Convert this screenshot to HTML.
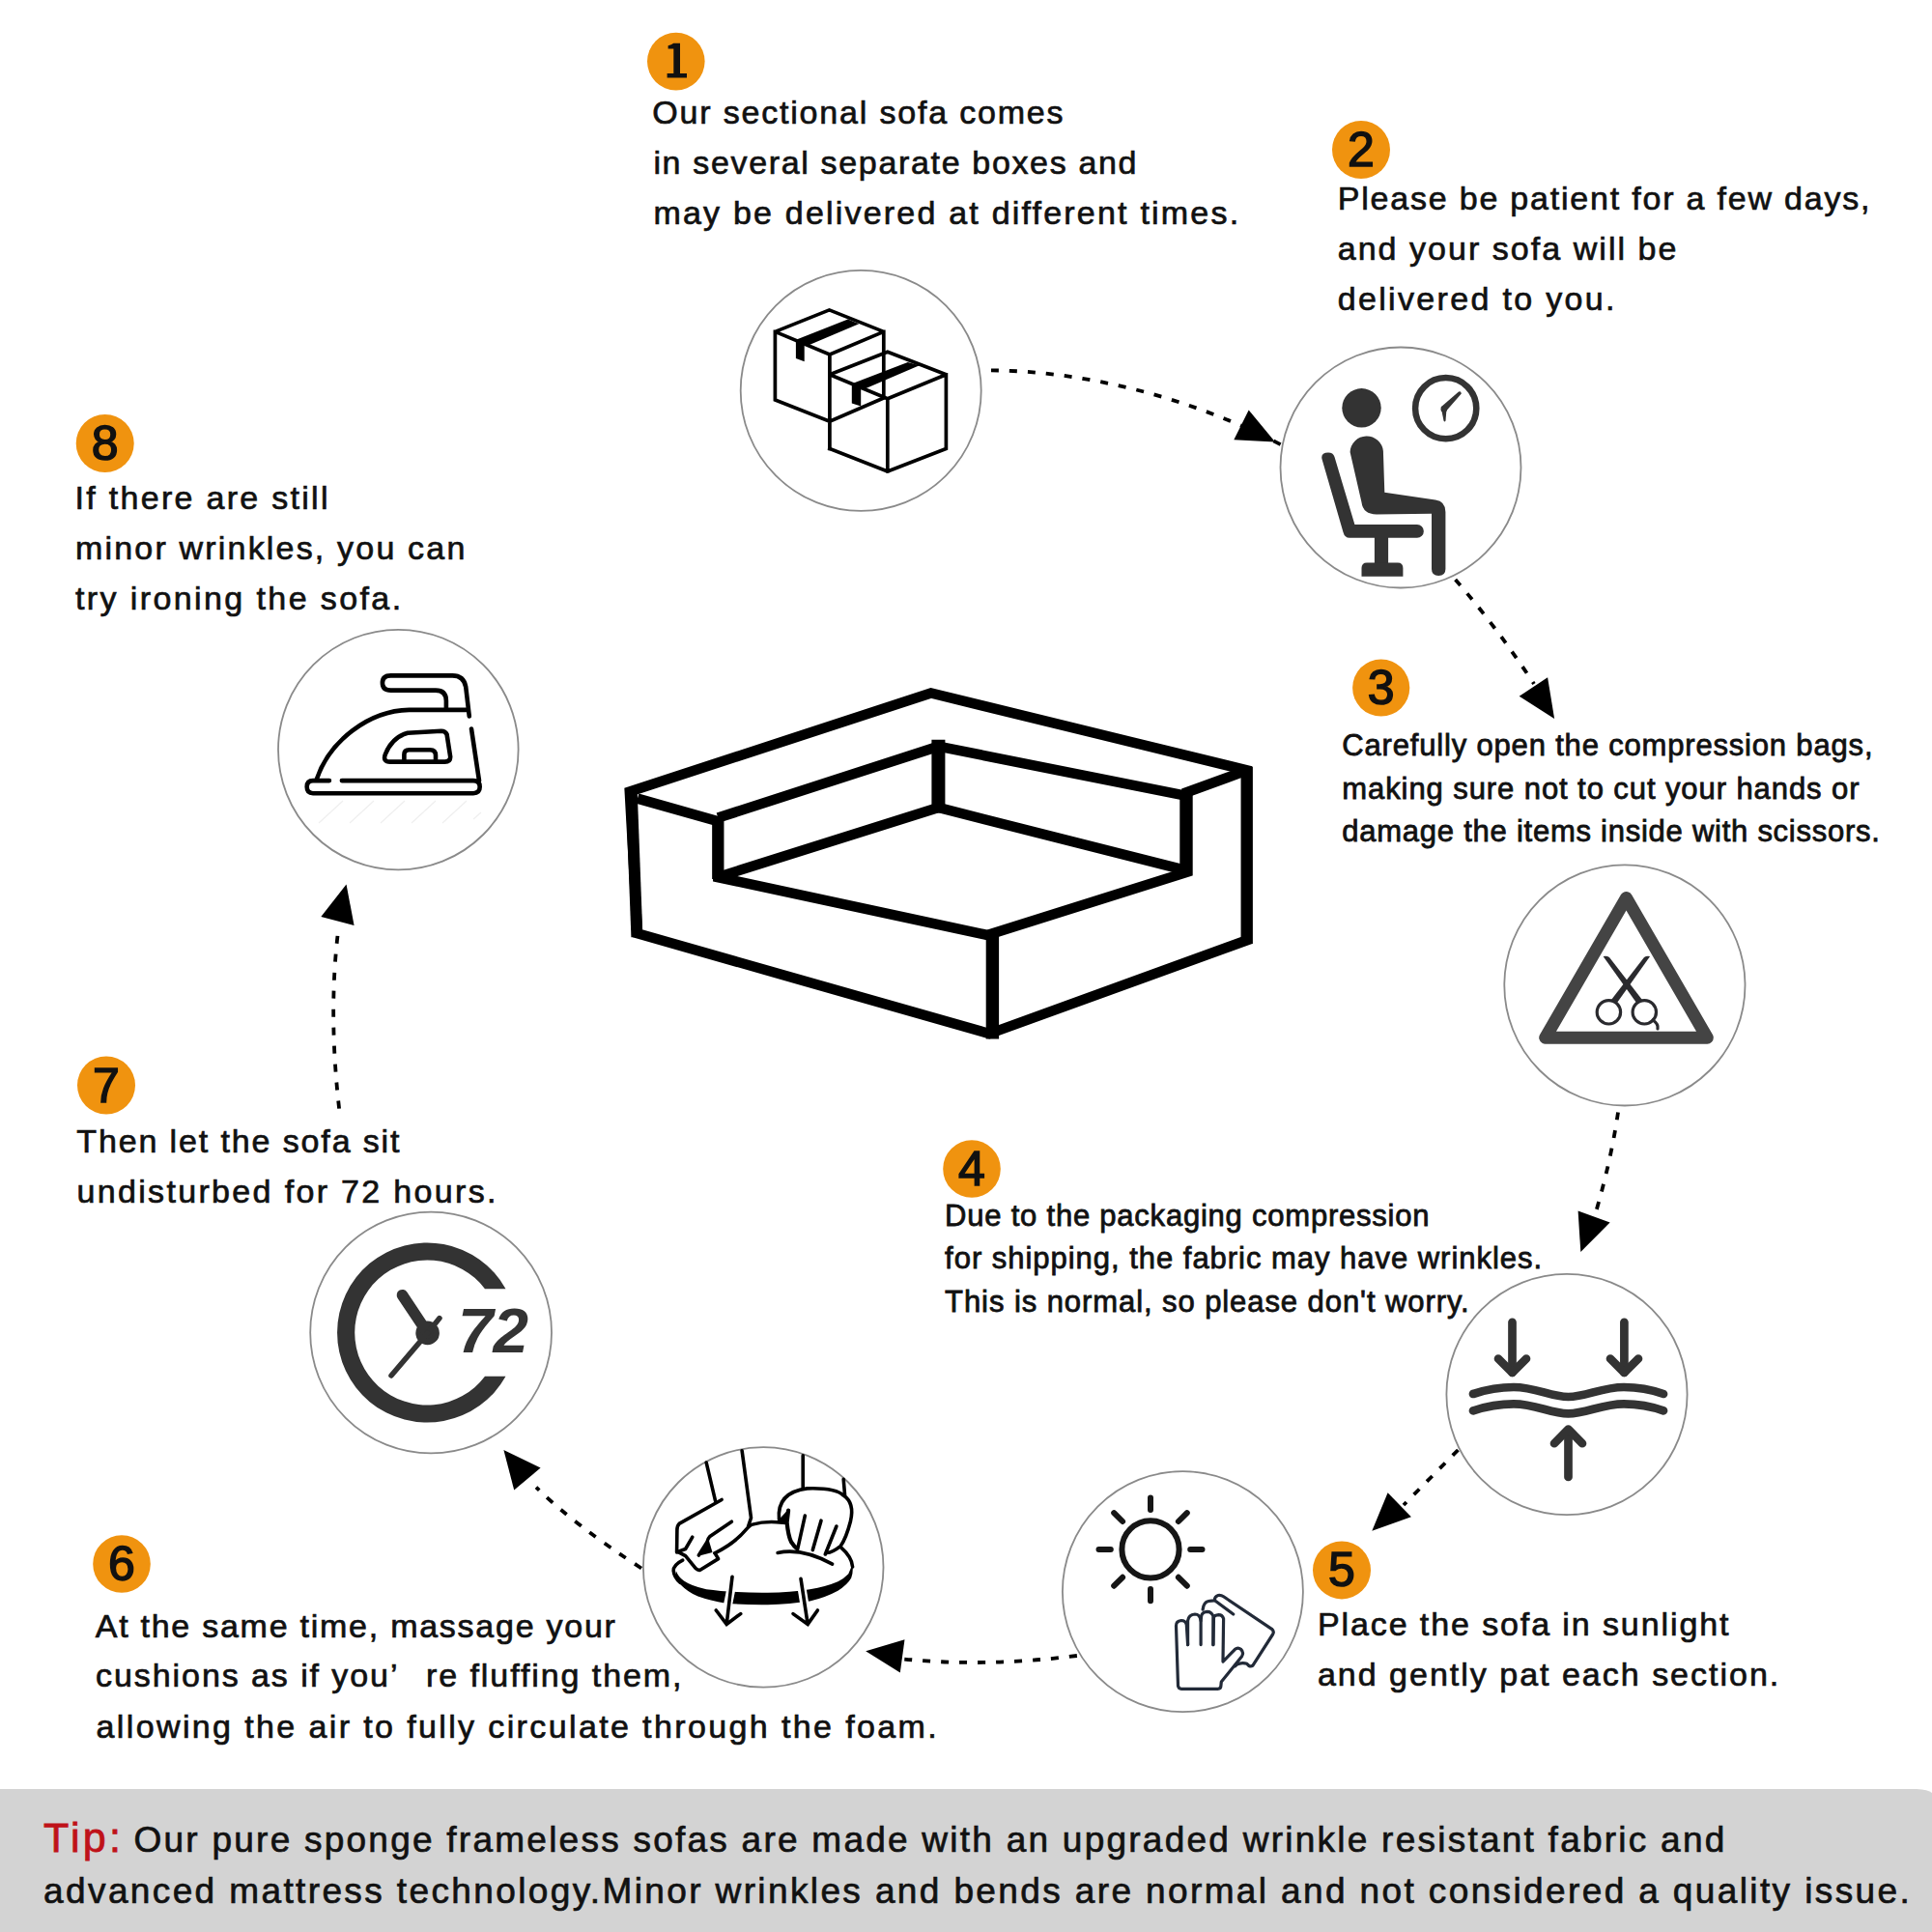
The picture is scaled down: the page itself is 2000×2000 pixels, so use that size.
<!DOCTYPE html>
<html><head><meta charset="utf-8">
<style>
html,body{margin:0;padding:0;background:#fff;width:2000px;height:2000px;overflow:hidden}
svg{display:block}
text{font-family:"Liberation Sans",sans-serif}
.t1{font-size:34px;fill:#111;stroke:#111;stroke-width:0.7}
.t3{font-size:31px;fill:#111;stroke:#111;stroke-width:0.8}
.tip{font-size:37px;fill:#111;stroke:#111;stroke-width:0.7}
.tipr{font-size:43px;fill:#bf1219;stroke:#bf1219;stroke-width:0.8}
.num{font-size:50px;fill:#111;stroke:#111;stroke-width:1.5}
.ring{fill:#fff;stroke:#8a8a8a;stroke-width:1.8}
.dash{fill:none;stroke:#000;stroke-width:3.8;stroke-dasharray:8 11}
</style></head>
<body>
<svg width="2000" height="2000" viewBox="0 0 2000 2000">
<rect width="2000" height="2000" fill="#fff"/>
<!-- Tip band -->
<path d="M0,1852 L1984,1852 Q1996,1852.5 2000,1856 L2000,2000 L0,2000 Z" fill="#d3d3d3"/>

<!-- circles -->
<g id="rings">
<circle class="ring" cx="891.2" cy="404.4" r="124.5"/>
<circle class="ring" cx="1450" cy="484" r="124.5"/>
<circle class="ring" cx="1681.9" cy="1019.9" r="124.6"/>
<circle class="ring" cx="1622" cy="1443.5" r="124.6"/>
<circle class="ring" cx="1224.4" cy="1647.7" r="124.5"/>
<circle class="ring" cx="790.2" cy="1622.4" r="124.3"/>
<circle class="ring" cx="446.1" cy="1379.5" r="124.9"/>
<circle class="ring" cx="412.3" cy="776.1" r="124.3"/>
</g>

<!-- arrows -->
<g id="arrows">
<path class="dash" d="M1026,383.4 C1120,384 1230,410 1326.8,460.8"/>
<polygon points="1292.7,424.6 1277.3,455.3 1320,457.4"/>
<path class="dash" d="M1506.6,600 Q1550,650 1588,708"/>
<polygon points="1602.1,701.2 1572.7,720.7 1609.1,744"/>
<path class="dash" d="M1675,1151.4 Q1668,1200 1652,1255"/>
<polygon points="1633.6,1253.5 1666.6,1265.6 1636.3,1295.9"/>
<path class="dash" d="M1509.4,1501 L1453,1558"/>
<polygon points="1436.6,1545.2 1460.9,1570.2 1420.3,1584.7"/>
<path class="dash" d="M1114.9,1714 Q1020,1726 935,1717.4"/>
<polygon points="896.2,1709.3 936.5,1697.2 931.8,1731.5"/>
<path class="dash" d="M664,1623.5 Q593.7,1577.85 555,1539.6"/>
<polygon points="521.4,1501 559.6,1519.6 532.2,1542.4"/>
<path class="dash" d="M351.1,1147.6 Q340,1050 349.8,966"/>
<polygon points="358.5,915.5 332.3,949.1 366.6,957.9"/>
</g>

<!-- sofa -->
<g fill="none" stroke="#000" stroke-width="10.5" stroke-linejoin="miter">
<path d="M651.8,819.5 L963.7,717.5 L1291,797.4 L1291,973.3 L1024.2,1070.1 L659.9,966.3 Z"/>
<path d="M659.9,826.6 L743.3,850.2 L743.3,908.2 L1022,968 L1228.4,903 L1228.4,820.2 L1291,797.4"/>
<path d="M743.3,846.6 L971.4,772.7 L1228.4,823.8"/>
<path d="M743.3,908 L971.4,836 L1228.4,901.2"/>
</g>
<g fill="none" stroke="#000" stroke-linecap="butt">
<path d="M653.6,816 L659.4,970" stroke-width="12"/>
<path d="M1027.4,966.3 L1027.4,1075.4" stroke-width="13.4"/>
<path d="M971.4,765.7 L971.4,841.4" stroke-width="14"/>
<path d="M1228,818.5 L1228,906.5" stroke-width="13.4"/>
<path d="M743.3,844.9 L743.3,910" stroke-width="12.3"/>
<path d="M1290.7,793.8 L1290.7,976.9" stroke-width="12.3"/>
</g>
<!-- icon 1: boxes -->
<g fill="none" stroke="#000" stroke-width="3.7" stroke-linejoin="miter" stroke-miterlimit="1.5" stroke-linecap="square">
<path d="M802.4,343.4 L858.5,320.9 L914.8,343.4 L858.9,366.9 Z M802.4,343.4 L802.4,414 L858.9,436.2 L914.8,412 L914.8,343.4 M858.9,366.9 L858.9,464.5"/>
<path d="M858.9,387.8 L918.8,364.2 L979.4,387.8 L918.8,412.7 Z M858.9,464.5 L918.8,488 L979.4,464.5 L979.4,387.8 M918.8,412.7 L918.8,488"/>
</g>
<g fill="#000">
<polygon points="824.6,351.4 877.8,330.6 889.2,335.3 836.7,357.5"/>
<polygon points="823.9,352.4 832.7,355.6 832.7,374.3 823.9,370.9"/>
<polygon points="881.8,397.2 939.7,375 951.8,378.3 895.3,402.6"/>
<polygon points="881.8,398 891.2,401 891.2,420.4 881.8,417.4"/>
</g>
<!-- icon 2: chair -->
<g fill="#333">
<circle cx="1409.5" cy="422.3" r="20.2"/>
<circle cx="1496.7" cy="422.7" r="31.6" fill="none" stroke="#333" stroke-width="6.5"/>
<path d="M1491.5,421.5 L1510,405.5 Q1512.5,404.5 1512.8,407.5 L1497.5,425 Z"/>
<path d="M1492,423 L1497.5,423 L1496.5,435.5 Q1495.5,437.5 1494.5,435.5 Z"/>
<circle cx="1494.8" cy="423.5" r="3.3"/>
<path d="M1397.6,468 A17.2,17.2 0 0 1 1431.9,467 L1433.3,509.8 L1486,517.5 Q1496.4,519 1496.4,530 L1496.4,589 Q1496.4,596 1489.2,596 Q1482,596 1482,589 L1482,531.8 L1425,532.4 Q1411,532.4 1409.5,520 Z"/>
<path d="M1368.5,475.2 Q1367,468.5 1375,468.5 Q1380,468.5 1381.5,472.9 L1402.4,543.1 L1467,543.1 A6.85,6.85 0 0 1 1467,556.8 L1397,556.8 Q1392,556.8 1390.5,551 Z"/>
<rect x="1422.9" y="555" width="14.2" height="29"/>
<path d="M1409.5,596.7 L1409.5,588 Q1409.5,582.4 1415,582.4 L1447,582.4 Q1452.4,582.4 1452.4,588 L1452.4,596.7 Z"/>
</g>

<!-- icon 3: triangle scissors -->
<g>
<path d="M1683.5,929.6 L1599.7,1074.2 L1767.3,1074.2 Z" fill="none" stroke="#444" stroke-width="13" stroke-linejoin="round"/>
<g fill="none" stroke="#2a2a2e" stroke-width="3.2">
<circle cx="1665.4" cy="1047.8" r="12.2"/>
<circle cx="1702.3" cy="1047.8" r="12.2"/>
<path d="M1711,1056 Q1717,1060 1716,1065" stroke-linecap="round"/>
</g>
<g fill="#2a2a2e">
<path d="M1659.6,990.1 Q1663,989 1666,991 L1700,1035 L1694,1038 L1659.6,990.1 Z"/>
<path d="M1708.1,990.1 Q1705,989 1702,991 L1668,1035 L1674,1038 L1708.1,990.1 Z"/>
</g>
</g>

<!-- icon 4: compression -->
<g fill="none" stroke="#333" stroke-width="8.7" stroke-linecap="round" stroke-linejoin="round">
<path d="M1565.5,1368.8 L1565.5,1421"/>
<path d="M1551,1406.5 L1565.5,1421 L1580,1406.5"/>
<path d="M1681.4,1368.8 L1681.4,1421"/>
<path d="M1667,1406.5 L1681.4,1421 L1696,1406.5"/>
<path d="M1623.5,1529 L1623.5,1481"/>
<path d="M1609,1494.2 L1623.5,1479.5 L1638,1494.2"/>
<path d="M1525,1443 C1540,1438 1555,1436 1567,1436 C1590,1436 1605,1446 1623.5,1446 C1642,1446 1658,1436 1681,1436 C1694,1436 1708,1438 1722,1443"/>
<path d="M1525,1460.4 C1540,1455.4 1555,1453.4 1567,1453.4 C1590,1453.4 1605,1463.4 1623.5,1463.4 C1642,1463.4 1658,1453.4 1681,1453.4 C1694,1453.4 1708,1455.4 1722,1460.4"/>
</g>

<!-- icon 5: sun + glove -->
<g fill="none" stroke="#161616" stroke-width="6" stroke-linecap="round">
<circle cx="1191" cy="1603.9" r="29.6"/>
<path d="M1191,1550.6 L1191,1562.9 M1191,1645 L1191,1657.2 M1137.5,1603.9 L1149.8,1603.9 M1232.2,1603.9 L1244.5,1603.9 M1153.2,1566.1 L1162.1,1575 M1219.9,1632.8 L1228.8,1641.7 M1153.2,1641.7 L1162.1,1632.8 M1219.9,1575 L1228.8,1566.1"/>
</g>
<g fill="none" stroke="#222a38" stroke-width="3.2" stroke-linecap="round" stroke-linejoin="round">
<path d="M1229.6,1702.6 L1228.3,1681.7 Q1227,1677.5 1222.8,1677.5 Q1217.5,1678 1217.5,1683 L1219.5,1745 Q1220,1748.3 1223,1748.3 L1260.6,1748.3 Q1263.9,1748.3 1263.9,1745 L1264.3,1741 L1285.5,1714.7 Q1288,1710.5 1284.5,1707.3 Q1281.5,1705 1278.5,1707.3 L1266,1720.1 L1266.6,1675.7 Q1265.5,1671.6 1261.5,1671.6 Q1257.5,1672 1256.5,1674 L1255.9,1702.6"/>
<path d="M1243.1,1702.6 L1243.1,1677.7 Q1242,1671 1237,1671 Q1230.5,1671.5 1229.6,1677.7 L1229.6,1702.6"/>
<path d="M1255.9,1702.6 L1255.9,1673 Q1254,1668.3 1249.8,1668.3 Q1245,1668.5 1243.7,1672.5 L1243.1,1677.7"/>
<path d="M1245.1,1666.2 Q1246,1658.5 1251.1,1657.5 Q1254.5,1656.8 1257.2,1656.8 Q1257.5,1652.5 1261,1651.5 Q1264,1651 1266.6,1652.8 L1316.5,1686.3 Q1319.5,1689 1317.5,1692 L1296.9,1724.1 Q1295,1725.5 1293,1724.5 L1290.8,1722.3 Q1288,1721.4 1284.5,1721.8 Q1280,1722.4 1278.7,1724.8"/>
<path d="M1258.5,1657.5 L1276.7,1671"/>
</g>

<!-- icon 6: hands cushion -->
<path d="M699.3,1632.2 Q700,1637 705.1,1640.9 Q712,1648 722.5,1652.5 Q735,1657 751.4,1659.7 Q772,1661.5 794.9,1661.2 Q818,1660.5 838.4,1657.5 Q855,1653.5 867.4,1646.7 Q877,1641 881.2,1633.6 Q883.5,1627 882.6,1619.1 L878.3,1629.3 Q874,1634 867.4,1637.2 Q855,1642.5 838.4,1645.2 Q818,1648.5 794.9,1648.8 Q778,1649 763,1648.1 Q745,1647 731.2,1645.2 Q716,1642 708,1636.5 Q702,1632 700,1626.4 Z" fill="#000"/>
<g fill="none" stroke="#000" stroke-width="3.6" stroke-linecap="round" stroke-linejoin="round">
<path d="M731.2,1514.1 L740.6,1553.9"/>
<path d="M768.1,1501.7 L777.5,1571.3 L774.6,1580"/>
<path d="M747.1,1552.5 L703,1577.4 Q700.9,1579.5 700.9,1584 L700.6,1607"/>
<path d="M701.6,1606.4 L709.6,1610.7 L720.4,1623.8 Q722.5,1625.8 724.8,1625.2 L743.6,1613.6 L740,1607.8"/>
<path d="M757.4,1575.2 L734.9,1590.4 Q732.5,1593 732,1596.2 L723.3,1610"/>
<path d="M740,1607.8 Q760,1598 771.9,1583.9 Q776,1579 779,1578.1 Q790,1575 803.6,1575.7 L813.8,1576.4"/>
<path d="M716.8,1591.2 L709.6,1603.5 L701.6,1606.4"/>
<path d="M706.7,1615.1 Q697,1620 697.2,1626 Q698,1633 704,1638"/>
<path d="M831.2,1506.8 L831.2,1540.9"/>
<path d="M873.2,1531.4 L874.6,1548.1"/>
<path d="M806.5,1572.8 Q804,1545 835.5,1540.9 Q865,1540 873.2,1548.1 Q885,1556 880.4,1575 Q876,1592 870.3,1600.3 Q862,1607 855.8,1607.5"/>
<path d="M816.1,1563.5 L814.6,1576 Q816,1590 819,1596.2 Q822,1601 825.5,1603.5" stroke-width="4.2"/>
<path d="M833.3,1569.1 L826.1,1601.7"/>
<path d="M850,1574.2 L841.3,1604.6"/>
<path d="M865.9,1580 L854.3,1609"/>
<path d="M805.1,1607.5 Q830,1602 861.6,1619.1"/>
<path d="M870.3,1601.7 Q882,1612 882.6,1622"/>

</g>
<polygon points="722,1611 733.5,1593.5 737.5,1607" fill="#000"/>
<polygon points="804.5,1575 816.5,1562 815.5,1578" fill="#000"/>
<g fill="none" stroke="#fff" stroke-width="9" stroke-linecap="butt">
<path d="M757.8,1640 L752.2,1668"/>
<path d="M829.6,1641 L834,1668"/>
</g>
<g fill="none" stroke="#000" stroke-width="3.6" stroke-linecap="round" stroke-linejoin="miter">
<path d="M758,1632.2 L752.2,1681.4 M741.3,1667 L752.2,1681.4 L766.7,1670.6"/>
<path d="M829,1634.3 L836.2,1681.4 M821,1670.6 L836.2,1681.4 L846.4,1667"/>
</g>
<!-- icon 7: 72 clock -->
<g fill="#333">
<path d="M523.5,1334.2 A93.1,93.1 0 1 0 523.5,1424.8 L502,1424.8 A75,75 0 1 1 502,1334.2 Z"/>
<circle cx="442.6" cy="1379.9" r="12.3"/>
<path d="M442.6,1379.9 L416.5,1340.7" stroke="#333" stroke-width="11.6" stroke-linecap="round"/>
<path d="M442.6,1379.9 L455,1364.6" stroke="#333" stroke-width="5.5" stroke-linecap="round"/>
<path d="M442.6,1379.9 L405,1424" stroke="#333" stroke-width="5.5" stroke-linecap="round"/>
<text x="474" y="1400.1" font-size="65" font-weight="bold" font-style="italic" textLength="73" lengthAdjust="spacingAndGlyphs">72</text>
</g>

<!-- icon 8: iron -->
<g stroke="#efefef" stroke-width="1.2" fill="none">
<path d="M330,852 L355,829 M362,852 L387,829 M394,852 L419,829 M426,852 L451,829 M458,852 L483,829 M490,848 L498,841"/>
</g>
<g fill="none" stroke="#000" stroke-width="4.6" stroke-linecap="round" stroke-linejoin="round">
<path d="M461.9,732.8 L461.9,725.5 Q461.9,714.6 451,714.6 L404.6,714.6 Q395.9,714.6 395.9,707 Q395.9,699.4 404.6,699.4 L468.4,699.4 Q480,699.4 482.2,711 L485.8,741.4"/>
<path d="M482.9,734.9 L423.5,734.9 C381.4,735.7 340.9,767.5 327.8,806.7"/>
<path d="M488,754.5 L496,808.1"/>
<path d="M340.9,808.1 L324,808.1 Q317.7,808.1 317.7,814.6 Q317.7,821.2 324,821.2 L490,821.2 Q496.7,821.2 496.7,814.6 Q496.7,808.1 490,808.1 L353.9,808.1"/>
<path d="M404,788.6 Q396,788.6 398.8,781 Q406,763 422,758.8 L456.8,756.7 Q461,756.7 462.6,760.3 L466.2,783.5 Q466.2,788.6 460.4,788.6 Z"/>
<path d="M418.4,786.4 L418.4,781 Q418.4,776.2 423.5,776.2 L445.2,776.2 Q451,776.2 451,782 L451,786.4"/>
</g>


<g fill="#f0930f">
<circle cx="699.8" cy="63.6" r="29.8"/>
<circle cx="1409" cy="155" r="30"/>
<circle cx="1429.7" cy="712" r="29.6"/>
<circle cx="1006" cy="1210" r="29.8"/>
<circle cx="1389" cy="1625.4" r="30"/>
<circle cx="126" cy="1619" r="29.8"/>
<circle cx="110" cy="1123.5" r="30"/>
<circle cx="108.7" cy="459" r="30"/>
</g>
<path d="M697.3,44.8 L704,44.8 L704,76 L711,76 L711,80.6 L690.6,80.6 L690.6,76 L697.3,76 L697.3,50.6 L691.6,50.6 L691.6,47.2 Q695,46.6 697.3,44.8 Z" fill="#111"/>
<g class="num" text-anchor="middle">

<text x="1409" y="172">2</text>
<text x="1429.7" y="729">3</text>
<text x="1006" y="1227">4</text>
<text x="1389" y="1642">5</text>
<text x="126" y="1636">6</text>
<text x="110" y="1140.5">7</text>
<text x="108.7" y="476">8</text>
</g>
<!-- texts -->
<text class="t1" x="675.30" y="128.20" textLength="425.20" lengthAdjust="spacing">Our sectional sofa comes</text>
<text class="t1" x="676.40" y="180.20" textLength="500.10" lengthAdjust="spacing">in several separate boxes and</text>
<text class="t1" x="676.40" y="231.80" textLength="605.70" lengthAdjust="spacing">may be delivered at different times.</text>
<text class="t1" x="1384.70" y="217.00" textLength="550.80" lengthAdjust="spacing">Please be patient for a few days,</text>
<text class="t1" x="1384.70" y="269.00" textLength="350.80" lengthAdjust="spacing">and your sofa will be</text>
<text class="t1" x="1384.70" y="321.40" textLength="286.80" lengthAdjust="spacing">delivered to you.</text>
<text class="t3" x="1389.30" y="782.40" textLength="549.20" lengthAdjust="spacing">Carefully open the compression bags,</text>
<text class="t3" x="1389.30" y="826.80" textLength="535.20" lengthAdjust="spacing">making sure not to cut your hands or</text>
<text class="t3" x="1389.30" y="871.30" textLength="556.60" lengthAdjust="spacing">damage the items inside with scissors.</text>
<text class="t3" x="978.10" y="1269.30" textLength="501.40" lengthAdjust="spacing">Due to the packaging compression</text>
<text class="t3" x="978.10" y="1313.20" textLength="618.00" lengthAdjust="spacing">for shipping, the fabric may have wrinkles.</text>
<text class="t3" x="978.10" y="1357.90" textLength="542.60" lengthAdjust="spacing">This is normal, so please don&#39;t worry.</text>
<text class="t1" x="1363.90" y="1692.90" textLength="425.60" lengthAdjust="spacing">Place the sofa in sunlight</text>
<text class="t1" x="1363.90" y="1744.50" textLength="477.40" lengthAdjust="spacing">and gently pat each section.</text>
<text class="t1" x="98.70" y="1694.90" textLength="538.20" lengthAdjust="spacing">At the same time, massage your</text>
<text class="t1" x="99.10" y="1746.40" textLength="606.40" lengthAdjust="spacing">cushions as if you’  re fluffing them,</text>
<text class="t1" x="99.50" y="1799.00" textLength="870.20" lengthAdjust="spacing">allowing the air to fully circulate through the foam.</text>
<text class="t1" x="79.30" y="1193.10" textLength="334.20" lengthAdjust="spacing">Then let the sofa sit</text>
<text class="t1" x="79.50" y="1245.30" textLength="434.00" lengthAdjust="spacing">undisturbed for 72 hours.</text>
<text class="t1" x="77.60" y="526.80" textLength="261.90" lengthAdjust="spacing">If there are still</text>
<text class="t1" x="78.00" y="579.00" textLength="403.30" lengthAdjust="spacing">minor wrinkles, you can</text>
<text class="t1" x="78.00" y="630.90" textLength="337.10" lengthAdjust="spacing">try ironing the sofa.</text>
<text class="tip" x="138.50" y="1916.80" textLength="1646.80" lengthAdjust="spacing">Our pure sponge frameless sofas are made with an upgraded wrinkle resistant fabric and</text>
<text class="tip" x="45.10" y="1970.00" textLength="1931.60" lengthAdjust="spacing">advanced mattress technology.Minor wrinkles and bends are normal and not considered a quality issue.</text>
<text class="tipr" x="45" y="1916.8" textLength="80" lengthAdjust="spacing">Tip:</text>
</svg>
</body></html>
